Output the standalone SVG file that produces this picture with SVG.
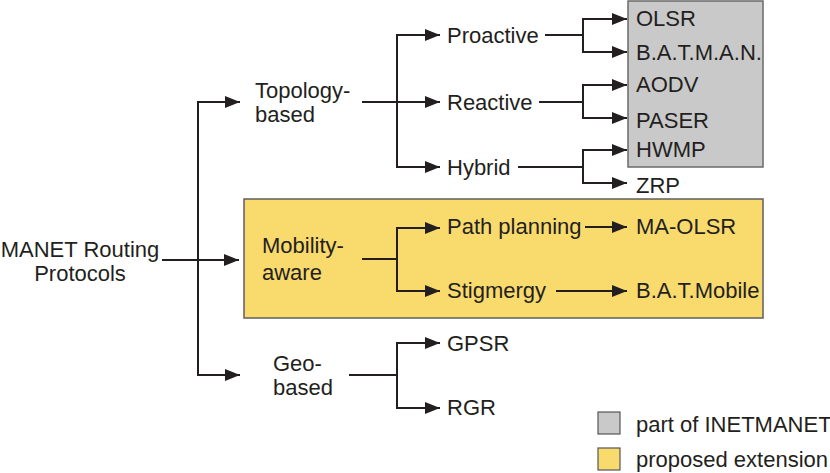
<svg xmlns="http://www.w3.org/2000/svg" width="830" height="473" viewBox="0 0 830 473">
<style>
text{font-family:"Liberation Sans",Arial,sans-serif;font-size:22px;fill:#231f20}
.c{fill:none;stroke:#231f20;stroke-width:2}
.a{marker-end:url(#ah)}
</style>
<defs>
<marker id="ah" markerUnits="userSpaceOnUse" markerWidth="16" markerHeight="12" refX="15" refY="6" orient="auto">
<path d="M0,0 L15,6 L0,12 z" fill="#231f20"/>
</marker>
</defs>
<rect width="830" height="473" fill="#fff"/>
<g id="inetmanet-box"><rect x="628" y="1" width="135" height="166" fill="#c9c9c9" stroke="#6a6a6a" stroke-width="1.5"/></g>
<g id="extension-box"><rect x="244" y="199" width="519" height="119" fill="#f9da6c" stroke="#5f5f5f" stroke-width="1.5"/></g>
<g id="connectors">
<path class="c" d="M162,260 H239" marker-end="url(#ah)"/>
<path class="c" d="M240,102 H198 V375 H240" />
<path class="c a" d="M198,102 H240"/>
<path class="c a" d="M198,375 H240"/>
<path class="c" d="M362,102 H397"/>
<path class="c" d="M440,35 H397 V167 H440"/>
<path class="c a" d="M397,35 H440"/>
<path class="c a" d="M397,102 H440"/>
<path class="c a" d="M397,167 H440"/>
<path class="c" d="M545,35 H583"/>
<path class="c" d="M627,19 H583 V52 H627"/>
<path class="c a" d="M583,19 H627"/>
<path class="c a" d="M583,52 H627"/>
<path class="c" d="M539,102 H583"/>
<path class="c" d="M627,85 H583 V118 H627"/>
<path class="c a" d="M583,85 H627"/>
<path class="c a" d="M583,118 H627"/>
<path class="c" d="M518,167 H583"/>
<path class="c" d="M627,150 H583 V183 H627"/>
<path class="c a" d="M583,150 H627"/>
<path class="c a" d="M583,183 H627"/>
<path class="c" d="M362,259 H397"/>
<path class="c" d="M440,228 H397 V291 H440"/>
<path class="c a" d="M397,228 H440"/>
<path class="c a" d="M397,291 H440"/>
<path class="c a" d="M585,227 H627"/>
<path class="c a" d="M556,291 H627"/>
<path class="c" d="M349,375 H397"/>
<path class="c" d="M440,343 H397 V408 H440"/>
<path class="c a" d="M397,343 H440"/>
<path class="c a" d="M397,408 H440"/>
</g>
<g id="root"><text x="80" y="257" text-anchor="middle">MANET Routing</text><text x="80" y="281" text-anchor="middle">Protocols</text></g>
<g id="topology"><text x="255" y="98">Topology-</text><text x="255" y="122">based</text></g>
<g id="mobility"><text x="262" y="253">Mobility-</text><text x="262" y="280">aware</text></g>
<g id="geo"><text x="273" y="371">Geo-</text><text x="273" y="395">based</text></g>
<g id="proactive"><text x="447" y="43">Proactive</text></g>
<g id="reactive"><text x="447" y="110">Reactive</text></g>
<g id="hybrid"><text x="447" y="175">Hybrid</text></g>
<g id="pathplanning"><text x="447" y="234">Path planning</text></g>
<g id="stigmergy"><text x="447" y="298">Stigmergy</text></g>
<g id="gpsr"><text x="447" y="351">GPSR</text></g>
<g id="rgr"><text x="447" y="415">RGR</text></g>
<g id="olsr"><text x="636" y="26">OLSR</text></g>
<g id="batman"><text x="636" y="60">B.A.T.M.A.N.</text></g>
<g id="aodv"><text x="636" y="92">AODV</text></g>
<g id="paser"><text x="636" y="128">PASER</text></g>
<g id="hwmp"><text x="636" y="157">HWMP</text></g>
<g id="zrp"><text x="636" y="193">ZRP</text></g>
<g id="maolsr"><text x="636" y="234">MA-OLSR</text></g>
<g id="batmobile"><text x="636" y="298">B.A.T.Mobile</text></g>
<g id="legend">
<rect x="598" y="412" width="22" height="22" fill="#c9c9c9" stroke="#555" stroke-width="1.2"/>
<text x="636" y="432">part of INETMANET</text>
<rect x="598" y="448" width="22" height="22" fill="#f9da6c" stroke="#555" stroke-width="1.2"/>
<text x="636" y="467">proposed extension</text>
</g>
</svg>
